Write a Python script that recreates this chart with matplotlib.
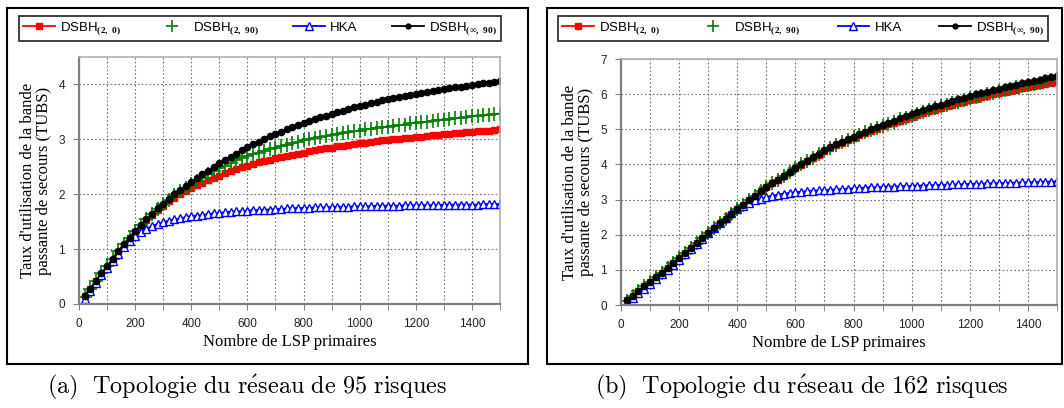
import numpy as np
import matplotlib
matplotlib.use("Agg")
import matplotlib.pyplot as plt
from matplotlib.lines import Line2D
from matplotlib.patches import Rectangle

plt.rcParams['font.family'] = ['Liberation Sans', 'DejaVu Sans']
plt.rcParams['mathtext.fontset'] = 'custom'
plt.rcParams['mathtext.rm'] = 'Liberation Serif'
plt.rcParams['mathtext.bf'] = 'Liberation Serif:bold'

# nombre de LSP primaires (one point every 20)
lsp = np.arange(20, 1501, 20)

# (a) 95 risques
a_dsbh_2_0 = [0.15, 0.28, 0.42, 0.55, 0.68, 0.81, 0.95, 1.08, 1.20, 1.32,
              1.43, 1.53, 1.62, 1.71, 1.79, 1.87, 1.94, 2.00, 2.06, 2.11,
              2.16, 2.21, 2.26, 2.30, 2.34, 2.38, 2.42, 2.46, 2.49, 2.52,
              2.55, 2.58, 2.61, 2.63, 2.66, 2.68, 2.70, 2.72, 2.74, 2.76,
              2.78, 2.80, 2.82, 2.84, 2.85, 2.87, 2.88, 2.90, 2.91, 2.93,
              2.94, 2.95, 2.97, 2.98, 2.99, 3.00, 3.01, 3.02, 3.03, 3.04,
              3.05, 3.06, 3.07, 3.08, 3.09, 3.10, 3.11, 3.12, 3.13, 3.14,
              3.15, 3.16, 3.16, 3.17, 3.18]
a_dsbh_2_90 = [0.13, 0.28, 0.42, 0.56, 0.69, 0.82, 0.96, 1.09, 1.21, 1.33,
               1.44, 1.54, 1.64, 1.73, 1.82, 1.90, 1.98, 2.05, 2.12, 2.18,
               2.24, 2.30, 2.36, 2.42, 2.47, 2.52, 2.57, 2.62, 2.66, 2.70,
               2.73, 2.76, 2.79, 2.82, 2.85, 2.88, 2.90, 2.93, 2.95, 2.98,
               3.00, 3.02, 3.04, 3.06, 3.08, 3.10, 3.12, 3.13, 3.15, 3.16,
               3.18, 3.19, 3.21, 3.22, 3.23, 3.25, 3.26, 3.27, 3.29, 3.30,
               3.31, 3.32, 3.34, 3.35, 3.36, 3.37, 3.38, 3.39, 3.40, 3.42,
               3.43, 3.44, 3.45, 3.46, 3.47]
a_hka = [0.10, 0.24, 0.38, 0.52, 0.66, 0.79, 0.92, 1.04, 1.15, 1.24,
         1.31, 1.37, 1.42, 1.46, 1.49, 1.52, 1.54, 1.56, 1.58, 1.60,
         1.61, 1.62, 1.64, 1.65, 1.66, 1.67, 1.68, 1.69, 1.69, 1.70,
         1.71, 1.71, 1.72, 1.72, 1.73, 1.73, 1.74, 1.74, 1.75, 1.75,
         1.75, 1.76, 1.76, 1.76, 1.77, 1.77, 1.77, 1.77, 1.78, 1.78,
         1.78, 1.78, 1.79, 1.79, 1.79, 1.79, 1.79, 1.80, 1.80, 1.80,
         1.80, 1.80, 1.80, 1.80, 1.81, 1.81, 1.81, 1.81, 1.81, 1.81,
         1.81, 1.82, 1.82, 1.82, 1.82]
a_dsbh_inf_90 = [0.15, 0.28, 0.42, 0.56, 0.69, 0.82, 0.96, 1.09, 1.21, 1.33,
                 1.44, 1.54, 1.64, 1.74, 1.83, 1.92, 2.00, 2.08, 2.15, 2.22,
                 2.29, 2.36, 2.43, 2.50, 2.56, 2.62, 2.68, 2.74, 2.80, 2.86,
                 2.91, 2.96, 3.01, 3.06, 3.10, 3.14, 3.18, 3.22, 3.26, 3.30,
                 3.33, 3.37, 3.40, 3.43, 3.46, 3.49, 3.52, 3.55, 3.58, 3.61,
                 3.63, 3.66, 3.68, 3.71, 3.73, 3.75, 3.77, 3.79, 3.81, 3.83,
                 3.85, 3.87, 3.88, 3.90, 3.92, 3.93, 3.95, 3.96, 3.98, 3.99,
                 4.01, 4.02, 4.03, 4.05, 4.06]

# (b) 162 risques
b_dsbh_2_0 = [0.13, 0.26, 0.39, 0.53, 0.66, 0.79, 0.92, 1.06, 1.20, 1.34,
              1.48, 1.62, 1.76, 1.90, 2.04, 2.18, 2.32, 2.46, 2.59, 2.72,
              2.85, 2.98, 3.10, 3.23, 3.35, 3.46, 3.57, 3.68, 3.79, 3.89,
              3.99, 4.09, 4.19, 4.28, 4.37, 4.46, 4.54, 4.62, 4.69, 4.76,
              4.83, 4.89, 4.96, 5.02, 5.08, 5.14, 5.19, 5.25, 5.30, 5.35,
              5.41, 5.46, 5.51, 5.56, 5.61, 5.65, 5.70, 5.74, 5.79, 5.83,
              5.87, 5.91, 5.95, 5.99, 6.03, 6.06, 6.10, 6.13, 6.17, 6.20,
              6.23, 6.26, 6.29, 6.32, 6.35]
b_dsbh_2_90 = [0.12, 0.26, 0.39, 0.53, 0.66, 0.79, 0.92, 1.06, 1.20, 1.34,
               1.48, 1.62, 1.76, 1.90, 2.04, 2.18, 2.32, 2.46, 2.59, 2.72,
               2.85, 2.98, 3.10, 3.23, 3.35, 3.46, 3.57, 3.68, 3.79, 3.90,
               4.00, 4.10, 4.19, 4.29, 4.38, 4.47, 4.55, 4.63, 4.70, 4.77,
               4.84, 4.91, 4.98, 5.04, 5.10, 5.16, 5.22, 5.28, 5.33, 5.39,
               5.44, 5.50, 5.55, 5.60, 5.65, 5.70, 5.75, 5.79, 5.84, 5.88,
               5.92, 5.96, 6.00, 6.04, 6.08, 6.12, 6.15, 6.19, 6.22, 6.26,
               6.29, 6.33, 6.36, 6.40, 6.43]
b_hka = [0.08, 0.20, 0.33, 0.46, 0.60, 0.73, 0.87, 1.01, 1.15, 1.29,
         1.44, 1.59, 1.74, 1.89, 2.04, 2.19, 2.34, 2.48, 2.61, 2.73,
         2.83, 2.91, 2.98, 3.03, 3.07, 3.11, 3.14, 3.17, 3.19, 3.21,
         3.22, 3.24, 3.25, 3.26, 3.27, 3.28, 3.29, 3.30, 3.31, 3.32,
         3.33, 3.34, 3.35, 3.35, 3.36, 3.37, 3.37, 3.38, 3.39, 3.39,
         3.40, 3.40, 3.41, 3.41, 3.42, 3.42, 3.43, 3.43, 3.44, 3.44,
         3.45, 3.45, 3.46, 3.46, 3.47, 3.47, 3.48, 3.48, 3.49, 3.49,
         3.50, 3.50, 3.51, 3.51, 3.52]
b_dsbh_inf_90 = [0.13, 0.26, 0.39, 0.53, 0.66, 0.79, 0.92, 1.06, 1.20, 1.34,
                 1.48, 1.62, 1.76, 1.90, 2.04, 2.18, 2.32, 2.46, 2.59, 2.72,
                 2.85, 2.98, 3.10, 3.23, 3.35, 3.46, 3.57, 3.68, 3.79, 3.90,
                 4.00, 4.10, 4.20, 4.30, 4.40, 4.49, 4.57, 4.65, 4.72, 4.79,
                 4.86, 4.93, 5.00, 5.07, 5.13, 5.19, 5.25, 5.31, 5.37, 5.43,
                 5.49, 5.54, 5.60, 5.65, 5.70, 5.75, 5.80, 5.85, 5.90, 5.95,
                 5.99, 6.03, 6.07, 6.11, 6.15, 6.19, 6.23, 6.27, 6.31, 6.34,
                 6.38, 6.41, 6.45, 6.48, 6.51]

labels = ['DSBH$_{\\mathbf{(2,\\ 0)}}$', 'DSBH$_{\\mathbf{(2,\\ 90)}}$', 'HKA',
          'DSBH$_{\\mathbf{(}\\infty\\mathbf{,\\ 90)}}$']
captions = [r'$\mathrm{(a)\ \ Topologie\ du\ r\acute{e}seau\ de\ 95\ risques}$',
            r'$\mathrm{(b)\ \ Topologie\ du\ r\acute{e}seau\ de\ 162\ risques}$']

W, H = 1064, 408
fig = plt.figure(figsize=(W / 100, H / 100), dpi=100)


def px(x0, y0, x1, y1):
    # pixel box (top-left origin) -> figure fraction rect
    return [x0 / W, 1 - y1 / H, (x1 - x0) / W, (y1 - y0) / H]


def draw_panel(ax, series, ymax, ylim_top):
    red, green, blue, black = series
    ax.plot(lsp, red, color='red', lw=1.3, marker='s', ms=4.5, mec='red', mfc='red')
    ax.plot(lsp, green, color='#008000', lw=1.3, marker='+', ms=10, mew=1.2)
    ax.plot(lsp, blue, color='blue', lw=1.3, marker='^', ms=6, mfc='white', mec='blue', mew=1)
    ax.plot(lsp, black, color='black', lw=1.3, marker='o', ms=4.5)
    ax.set_xlim(0, 1500)
    ax.set_ylim(0, ylim_top)
    ax.set_xticks(np.arange(0, 1501, 100), minor=True)
    ax.set_xticks(np.arange(0, 1401, 200))
    ax.set_yticks(np.arange(0, ymax + 1, 1))
    ax.grid(True, which='both', axis='x', color='#707070', lw=0.8, ls=(0, (1.5, 2)))
    ax.grid(True, which='major', axis='y', color='#707070', lw=0.8, ls=(0, (1.5, 2)))
    ax.set_axisbelow(True)
    for s in ['left', 'bottom']:
        ax.spines[s].set_color('#808080')
        ax.spines[s].set_linewidth(1.6)
    for s in ['top', 'right']:
        ax.spines[s].set_color('#b0b0b0')
        ax.spines[s].set_linewidth(1.2)
    ax.tick_params(which='both', direction='out', length=4, color='#808080',
                   labelsize=8.5, labelcolor='#222222', pad=6)
    ax.tick_params(which='minor', length=4)
    ax.set_xlabel('Nombre de LSP primaires', family='Liberation Serif', fontsize=12, labelpad=3)
    ax.set_ylabel("Taux d'utilisation de la bande\npassante de secours (TUBS)",
                  family='Liberation Serif', fontsize=12, labelpad=5, linespacing=0.95)


ax1 = fig.add_axes(px(79, 57, 500, 304))
draw_panel(ax1, [a_dsbh_2_0, a_dsbh_2_90, a_hka, a_dsbh_inf_90], 4, 4.5)
ax2 = fig.add_axes(px(621, 59, 1057, 305))
draw_panel(ax2, [b_dsbh_2_0, b_dsbh_2_90, b_hka, b_dsbh_inf_90], 7, 7)

# outer frames
for box in [(7, 8, 528, 364), (547, 8, 1062, 364)]:
    r = px(*box)
    fig.patches.append(Rectangle((r[0], r[1]), r[2], r[3], transform=fig.transFigure,
                                 fill=False, ec='black', lw=1.5))

handles = [
    Line2D([], [], color='red', lw=1.3, marker='s', ms=4.2),
    Line2D([], [], color='#008000', lw=0, marker='+', ms=9, mew=1.2),
    Line2D([], [], color='blue', lw=1.3, marker='^', ms=5.5, mfc='white', mew=1),
    Line2D([], [], color='black', lw=1.3, marker='o', ms=3.5),
]
for box in [(19, 14, 501, 43), (558, 14, 1048, 43)]:
    r = px(*box)
    leg = fig.legend(handles, labels, loc='center', bbox_to_anchor=r, mode='expand', ncol=4,
                     fontsize=9.5, frameon=True, fancybox=False, edgecolor='black',
                     borderaxespad=0, handlelength=2.4, handletextpad=0.4,
                     borderpad=0.3, columnspacing=1.0)
    leg.get_frame().set_linewidth(1.3)

for cx, cap in zip([247, 802], captions):
    fig.text(cx / W, 1 - 387 / H, cap, ha='center', va='center', fontsize=17.5,
             math_fontfamily='cm')

fig.savefig('out.png', dpi=100)
